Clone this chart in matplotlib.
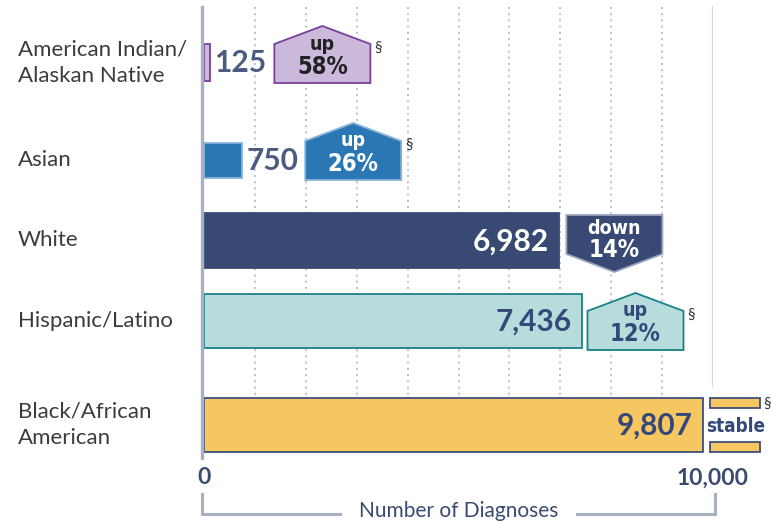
import matplotlib.pyplot as plt
from matplotlib.patches import Polygon, Rectangle

plt.rcParams.update({"font.family": ["Lato", "DejaVu Sans"], "font.size": 14})

groups = ["American Indian/\nAlaskan Native", "Asian", "White", "Hispanic/Latino", "Black/African\nAmerican"]
diagnoses = [125, 750, 6982, 7436, 9807]
value_labels = ["125", "750", "6,982", "7,436", "9,807"]
trend_dir = ["up", "up", "down", "up", "stable"]
trend_pct = ["58%", "26%", "14%", "12%", ""]
trend_flag = [True, True, False, True, True]   # § footnote marker
x_ticks = [0, 10000]
x_ticklabels = ["0", "10,000"]

# layout (y in pixels from top, figure is 780x525 at dpi 100)
y_center = [62.5, 160.5, 240.5, 321, 425]
bar_h = [37, 35, 55, 54, 54]
bar_fill = ["#cbb9dc", "#2b77b4", "#384a74", "#b7dcdc", "#f6c660"]
bar_edge = ["#7b3f9e", "#86b3da", "#384a74", "#1b8088", "#3f4f78"]
arrow_edge = ["#7b3f9e", "#86b3da", "#9aa3bd", "#1b8088"]
num_color = ["#4b5b82", "#4b5b82", "white", "#34497a", "#34497a"]
arrow_txt = ["#222222", "white", "white", "#34497a"]
arrow_gap = [64, 63, 7, 5]
navy = "#3a4a72"
axis_gray = "#a8b0c4"
cond = dict(family="DejaVu Sans", fontstretch="condensed", fontweight="bold")

fig = plt.figure(figsize=(7.8, 5.25), dpi=100)
ax = fig.add_axes([204 / 780, 0, 509 / 780, 1])
ax.set_xlim(0, 10000)
ax.set_ylim(525, 0)
ax.axis("off")
upp = 10000 / 509  # data units per pixel

# grid and axis lines
for g in range(1000, 10000, 1000):
    ax.plot([g, g], [7, 398], color="#b9c0d4", lw=1.4, ls=(0, (1, 2.2)), zorder=0)
ax.plot([10000, 10000], [7, 386], color="#d3d8e4", lw=1.6, zorder=0)
ax.plot([-2 * upp] * 2, [7, 458], color=axis_gray, lw=2.4, zorder=3, clip_on=False)

ax.barh(y_center, diagnoses, height=bar_h, color=bar_fill, edgecolor=bar_edge, linewidth=1.3, zorder=2)

for i, (lab, v, vl) in enumerate(zip(groups, diagnoses, value_labels)):
    ax.text(-186 * upp, y_center[i], lab, ha="left", va="center", fontsize=16,
            color="#3c3c3c", linespacing=1.4, clip_on=False)
    if v > 5000:
        ax.text(v - 11 * upp, y_center[i] + 1, vl, ha="right", va="center", fontsize=21.5,
                fontweight="bold", color=num_color[i])
    else:
        ax.text(v + 4 * upp, y_center[i] + 1, vl, ha="left", va="center", fontsize=21.5,
                fontweight="bold", color=num_color[i])

    w = 96 * upp
    if trend_dir[i] in ("up", "down"):
        x0 = v + arrow_gap[i] * upp
        if trend_dir[i] == "up":
            yb = y_center[i] + bar_h[i] / 2 + 2
            pts = [(x0, yb), (x0, yb - 39), (x0 + w / 2, yb - 57), (x0 + w, yb - 39), (x0 + w, yb)]
            y_word, y_pct, y_flag = yb - 39, yb - 16, yb - 35
        else:
            yt = y_center[i] - bar_h[i] / 2 + 2
            pts = [(x0, yt), (x0 + w, yt), (x0 + w, yt + 39), (x0 + w / 2, yt + 57), (x0, yt + 39)]
            y_word, y_pct, y_flag = yt + 14, yt + 35, yt + 4
        ax.add_patch(Polygon(pts, closed=True, facecolor=bar_fill[i], edgecolor=arrow_edge[i],
                             lw=1.3, zorder=2, clip_on=False))
        ax.text(x0 + w / 2, y_word, trend_dir[i], ha="center", va="center", fontsize=14,
                color=arrow_txt[i], clip_on=False, **cond)
        ax.text(x0 + w / 2, y_pct, trend_pct[i], ha="center", va="center", fontsize=17,
                color=arrow_txt[i], clip_on=False, **cond)
        if trend_flag[i]:
            ax.text(x0 + w + 4 * upp, y_flag, "§", ha="left", va="center", fontsize=11,
                    color="#333333", clip_on=False)
    else:
        x0 = v + 7 * upp
        sw = 50 * upp
        top = y_center[i] - bar_h[i] / 2
        bot = y_center[i] + bar_h[i] / 2
        for yy in (top, bot - 10):
            ax.add_patch(Rectangle((x0, yy), sw, 10, facecolor=bar_fill[i], edgecolor=bar_edge[i],
                                   lw=1.3, zorder=2, clip_on=False))
        ax.text(x0 + sw / 2, y_center[i] + 1, "stable", ha="center", va="center", fontsize=13.5,
                color="#34497a", clip_on=False, **cond)
        if trend_flag[i]:
            ax.text(x0 + sw + 3 * upp, top + 6, "§", ha="left", va="center", fontsize=11,
                    color="#333333", clip_on=False)

# tick labels
for t, tl in zip(x_ticks, x_ticklabels):
    ax.text(t, 478, tl, ha="center", va="center", fontsize=16.5, fontweight="bold",
            color=navy, clip_on=False)

# bracket with axis title
ax.plot([-2 * upp, -2 * upp, 136 * upp], [494, 513.5, 513.5], color=axis_gray, lw=2.2,
        clip_on=False, solid_joinstyle="miter")
ax.plot([373 * upp, 511 * upp, 511 * upp], [513.5, 513.5, 494], color=axis_gray, lw=2.2,
        clip_on=False, solid_joinstyle="miter")
ax.text(255 * upp, 511, "Number of Diagnoses", ha="center", va="center", fontsize=15,
        color=navy, clip_on=False)

fig.savefig("out.png", dpi=100)
